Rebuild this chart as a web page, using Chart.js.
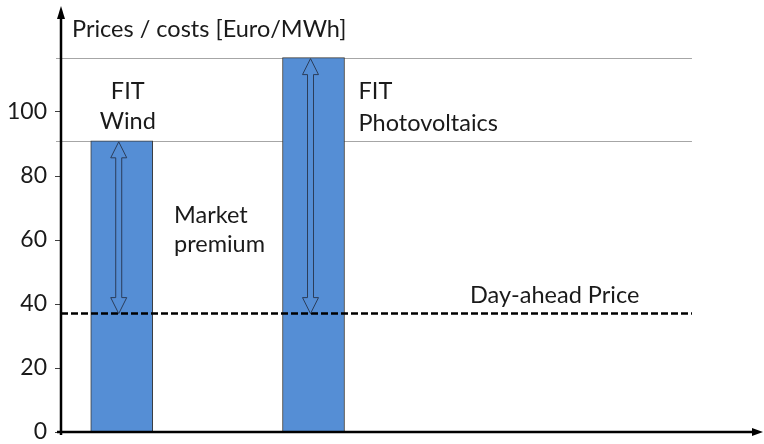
<!DOCTYPE html>
<html>
<head>
<meta charset="utf-8">
<script src="https://cdn.jsdelivr.net/npm/chart.js@4"></script>
<style>
  html, body { margin: 0; padding: 0; background: #fff; }
  #wrap { width: 764px; height: 444px; }
</style>
</head>
<body>
<div id="wrap"><canvas id="fitChart"></canvas></div>
<script>
// values
const categories = [['FIT', 'Wind'], ['FIT', 'Photovoltaics']];
const slots = [1, 4];            // where each bar sits on the (hidden) x axis
const fitValues = [91, 117];     // feed-in tariffs, Euro/MWh
const dayAheadPrice = 37;
const yTicks = [0, 20, 40, 60, 80, 100];
const axisTitle = 'Prices / costs [Euro/MWh]';
const premiumLabel = ['Market', 'premium'];
const priceLabel = 'Day-ahead Price';

const FONT = 'Lato, "Open Sans", sans-serif';
const TEXT = '#1a1a1a';
const BLUE = '#558ed5';
const refLineEnd = 9.92;         // x value where the reference lines stop

function doubleArrow(ctx, x, top, bot) {
  const hw = 8, sw = 3, hl = 16;
  ctx.beginPath();
  ctx.moveTo(x, top);
  ctx.lineTo(x + hw, top + hl);
  ctx.lineTo(x + sw, top + hl);
  ctx.lineTo(x + sw, bot - hl);
  ctx.lineTo(x + hw, bot - hl);
  ctx.lineTo(x, bot);
  ctx.lineTo(x - hw, bot - hl);
  ctx.lineTo(x - sw, bot - hl);
  ctx.lineTo(x - sw, top + hl);
  ctx.lineTo(x - hw, top + hl);
  ctx.closePath();
  ctx.fillStyle = BLUE;
  ctx.fill();
  ctx.strokeStyle = '#2b3d5a';
  ctx.lineWidth = 1;
  ctx.stroke();
}

const annotations = {
  id: 'annotations',
  beforeDatasetsDraw(chart) {
    const { ctx, chartArea, scales: { x, y } } = chart;
    ctx.save();
    ctx.strokeStyle = '#a6a6a6';
    ctx.lineWidth = 1;
    fitValues.forEach(v => {
      const py = Math.round(y.getPixelForValue(v)) + 0.5;
      ctx.beginPath();
      ctx.moveTo(chartArea.left - 5, py);
      ctx.lineTo(x.getPixelForValue(refLineEnd), py);
      ctx.stroke();
    });
    ctx.restore();
  },
  afterDatasetsDraw(chart) {
    const { ctx, chartArea, scales: { x, y } } = chart;
    const bars = chart.getDatasetMeta(0).data;
    const priceY = y.getPixelForValue(dayAheadPrice);
    ctx.save();

    // day-ahead price line
    ctx.setLineDash([7, 3]);
    ctx.strokeStyle = '#000';
    ctx.lineWidth = 2.5;
    ctx.beginPath();
    ctx.moveTo(chartArea.left, priceY);
    ctx.lineTo(x.getPixelForValue(refLineEnd), priceY);
    ctx.stroke();
    ctx.setLineDash([]);

    // market premium arrows
    bars.forEach(b => doubleArrow(ctx, b.x - 3, b.y + 1, priceY));

    // axes with arrow heads
    const ax = chartArea.left, ay = chartArea.bottom;
    ctx.strokeStyle = '#000';
    ctx.fillStyle = '#000';
    ctx.lineWidth = 2.5;
    ctx.beginPath();
    ctx.moveTo(ax, ay + 3);
    ctx.lineTo(ax, 16);
    ctx.moveTo(ax - 4, ay);
    ctx.lineTo(chart.width - 8, ay);
    ctx.stroke();
    ctx.beginPath();
    ctx.moveTo(ax, 6); ctx.lineTo(ax - 4, 19); ctx.lineTo(ax + 4, 19);
    ctx.closePath(); ctx.fill();
    ctx.beginPath();
    ctx.moveTo(chart.width - 1, ay); ctx.lineTo(chart.width - 12, ay - 4); ctx.lineTo(chart.width - 12, ay + 4);
    ctx.closePath(); ctx.fill();

    // texts
    ctx.fillStyle = TEXT;
    ctx.font = '23.5px ' + FONT;
    ctx.textBaseline = 'alphabetic';
    ctx.textAlign = 'left';
    ctx.fillText(axisTitle, ax + 11, 37);

    ctx.textAlign = 'center';
    categories[0].forEach((t, i) => ctx.fillText(t, bars[0].x + 6, 99 + i * 30));
    ctx.textAlign = 'left';
    categories[1].forEach((t, i) => ctx.fillText(t, bars[1].x + 45, 99 + i * 32));
    premiumLabel.forEach((t, i) => ctx.fillText(t, 174, 223 + i * 29));
    ctx.fillText(priceLabel, 470, 303);
    ctx.restore();
  }
};

new Chart(document.getElementById('fitChart'), {
  type: 'bar',
  data: {
    datasets: [{
      data: slots.map((s, i) => ({ x: s, y: fitValues[i] })),
      backgroundColor: BLUE,
      borderColor: '#3a3a3a',
      borderWidth: 1,
      barThickness: 62
    }]
  },
  options: {
    responsive: true,
    maintainAspectRatio: false,
    animation: false,
    layout: { padding: { top: 16, right: 3, bottom: 12, left: 0 } },
    plugins: { legend: { display: false }, tooltip: { enabled: false } },
    scales: {
      x: { type: 'linear', min: 0.05, max: 11, offset: false, display: false },
      y: {
        min: 0,
        max: 130,
        afterFit: s => { s.width = 61; s.paddingTop = 0; s.paddingBottom = 0; },
        afterBuildTicks: s => { s.ticks = yTicks.map(v => ({ value: v })); },
        border: { display: false },
        grid: { drawOnChartArea: false, tickLength: 6, color: '#404040', lineWidth: 1 },
        ticks: { padding: 8, color: TEXT, font: { family: FONT, size: 23, lineHeight: 1 } }
      }
    }
  },
  plugins: [annotations]
});
</script>
</body>
</html>
